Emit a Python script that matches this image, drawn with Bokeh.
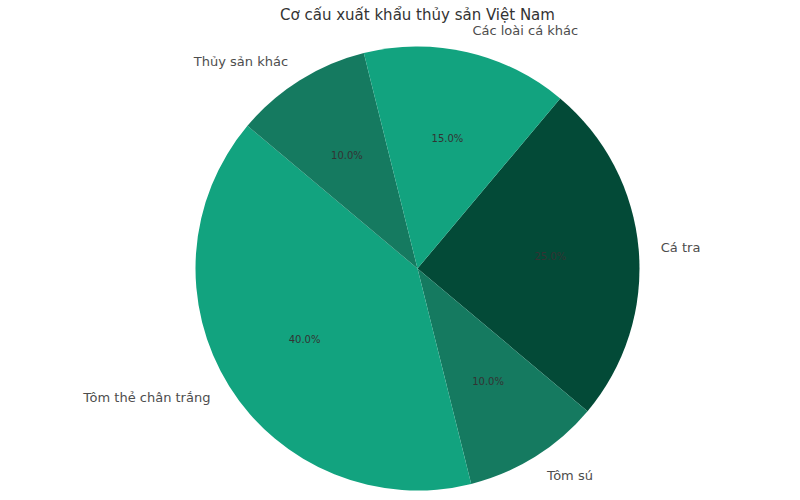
import math
from bokeh.plotting import figure
from bokeh.models import ColumnDataSource, Range1d
from bokeh.core.properties import value
from bokeh.embed import file_html
from bokeh.resources import INLINE

title = "Cơ cấu xuất khẩu thủy sản Việt Nam"
categories = ["Cá tra", "Tôm sú", "Tôm thẻ chân trắng", "Thủy sản khác", "Các loài cá khác"]
values = [25, 10, 40, 10, 15]
colors = ["#034a37", "#157a60", "#12a37f", "#157a60", "#12a37f"]
start_deg = 50  # first slice starts here, slices run clockwise

W, H = 800, 500
R = 222.0              # pie radius in pixels
CX, CY = 417.0, 268.0  # pie center in pixels from top-left of the figure

total = float(sum(values))
starts, ends, mids, pct = [], [], [], []
cum = 0.0
for v in values:
    a0 = math.radians(start_deg - cum / total * 360.0)
    a1 = math.radians(start_deg - (cum + v) / total * 360.0)
    starts.append(a1)
    ends.append(a0)
    mids.append((a0 + a1) / 2)
    pct.append(f"{v / total * 100:.1f}%")
    cum += v

p = figure(width=W, height=H, output_backend="svg", toolbar_location=None,
           min_border=0, x_axis_type=None, y_axis_type=None)
p.x_range = Range1d(-CX / R, (W - CX) / R)
p.y_range = Range1d(-(H - CY) / R, CY / R)
p.outline_line_color = None
p.grid.visible = False
p.background_fill_color = "white"
p.border_fill_color = "white"

src = ColumnDataSource(dict(start=starts, end=ends, color=colors))
p.wedge(x=0, y=0, radius=1.0, start_angle="start", end_angle="end",
        direction="anticlock", fill_color="color", line_color=None, source=src)

# percentage labels at 0.6 radius
ps = ColumnDataSource(dict(x=[0.6 * math.cos(m) for m in mids],
                           y=[0.6 * math.sin(m) for m in mids], t=pct))
p.text(x="x", y="y", text="t", source=ps, text_align="center", text_baseline="middle",
       text_font=value("DejaVu Sans"), text_font_size="10px", text_color="#333333")

# category labels at 1.1 radius
lx = [1.1 * math.cos(m) for m in mids]
ly = [1.1 * math.sin(m) for m in mids]
al = ["left" if x > 0 else "right" for x in lx]
ls = ColumnDataSource(dict(x=lx, y=ly, t=categories, a=al))
p.text(x="x", y="y", text="t", source=ls, text_align="a", text_baseline="middle",
       text_font=value("DejaVu Sans"), text_font_size="13px", text_color="#4d4d4d")

# title
p.text(x=[0], y=[(CY - 14) / R], text=[title], text_align="center", text_baseline="middle",
       text_font=value("DejaVu Sans"), text_font_size="15px", text_color="#333333")

open("out.html", "w").write(file_html(p, INLINE))
